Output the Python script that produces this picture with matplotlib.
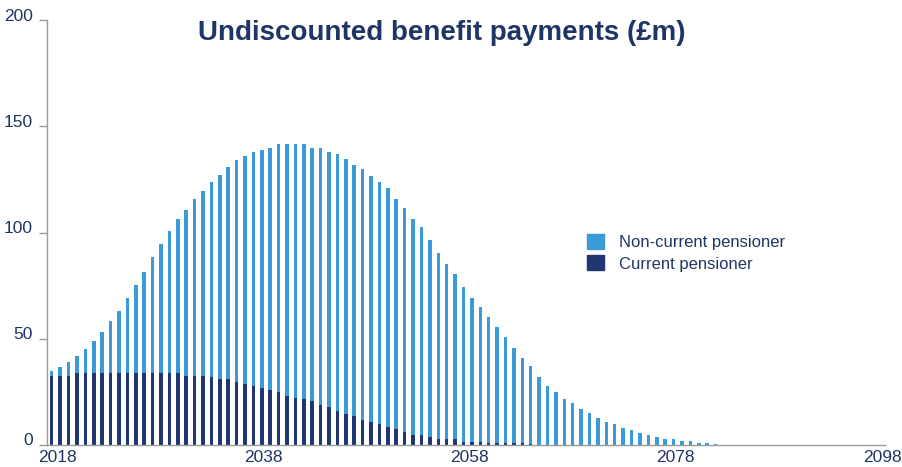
import numpy as np
import matplotlib
matplotlib.use("Agg")
import matplotlib.pyplot as plt
from matplotlib.transforms import ScaledTranslation
from matplotlib.patches import Patch

# benefit payments by year, £m
years = np.arange(2018, 2098)
total = [35.0, 36.9, 39.0, 42.0, 45.1, 49.2, 53.1, 58.3, 63.2, 69.3,
         75.3, 81.4, 88.5, 94.5, 100.8, 106.6, 110.5, 115.7, 119.7, 123.7,
         126.9, 130.8, 134.0, 136.0, 137.9, 138.8, 139.8, 141.8, 141.5, 141.8,
         141.8, 139.6, 139.6, 137.9, 136.8, 134.7, 131.8, 129.7, 126.7, 123.7,
         120.8, 115.7, 111.6, 106.6, 102.5, 96.5, 90.4, 85.4, 80.4, 74.4,
         69.3, 65.2, 60.2, 55.7, 50.8, 45.8, 41.2, 37.1, 31.9, 27.9,
         25.0, 21.8, 19.9, 16.8, 14.9, 12.9, 10.8, 9.8, 7.9, 6.9,
         5.8, 4.7, 3.8, 2.8, 2.8, 1.9, 1.9, 0.9, 0.9, 0.7]
current = [32.7, 32.7, 32.7, 33.8, 33.8, 33.8, 33.8, 33.8, 33.8, 33.8,
           33.8, 33.8, 33.8, 33.8, 33.8, 33.8, 32.7, 32.7, 32.7, 32.1,
           31.0, 31.0, 29.9, 28.8, 27.8, 27.0, 25.9, 25.0, 23.0, 22.0,
           21.7, 20.8, 18.9, 17.9, 15.9, 14.8, 13.8, 11.8, 10.8, 9.9,
           8.6, 7.5, 6.0, 4.9, 4.9, 3.8, 2.8, 2.8, 2.8, 1.6,
           1.5, 1.4, 1.0, 0.9, 0.9, 0.8, 0.8, 0.7, 0, 0,
           0, 0, 0, 0, 0, 0, 0, 0, 0, 0,
           0, 0, 0, 0, 0, 0, 0, 0, 0, 0]
non_current = np.array(total) - np.array(current)
tick_labels = ["2018", "2038", "2058", "2078", "2098"]

light = "#3b9bd8"
dark = "#1f3671"
txt = "#1f3566"
grey = "#9a9a9a"

plt.rcParams["font.family"] = ["Liberation Sans", "DejaVu Sans"]

fig = plt.figure(figsize=(9.02, 4.67), dpi=100)
ax = fig.add_axes([0.0525, 0.047, 0.929, 0.91])

x = np.arange(len(years))
ax.bar(x, current, width=0.42, color=dark, linewidth=0)
ax.bar(x, non_current, bottom=current, width=0.42, color=light, linewidth=0)

ax.set_xlim(-0.52, 99.2)
ax.set_ylim(0, 200)
ax.set_yticks([0, 50, 100, 150, 200])
ax.set_xticks(np.linspace(0.63, 98.8, 5))
ax.set_xticklabels(tick_labels)

for s in ["top", "right"]:
    ax.spines[s].set_visible(False)
for s in ["left", "bottom"]:
    ax.spines[s].set_color(grey)
    ax.spines[s].set_linewidth(1.0)

ax.tick_params(axis="y", length=6, width=1, color=grey, pad=4.5,
               labelsize=12.5, labelcolor=txt)
ax.tick_params(axis="x", length=0, pad=3.5, labelsize=12.5, labelcolor=txt)
for lab in ax.get_yticklabels():
    lab.set_transform(lab.get_transform() + ScaledTranslation(0, 4 / 72, fig.dpi_scale_trans))

fig.text(0.49, 0.929, "Undiscounted benefit payments (£m)", ha="center", va="center",
         fontsize=20, fontweight="bold", color=txt)

handles = [Patch(color=light, label="Non-current pensioner"),
           Patch(color=dark, label="Current pensioner")]
ax.legend(handles=handles, loc="center left", bbox_to_anchor=(0.626, 0.452),
          frameon=False, fontsize=12, labelcolor=txt, handlelength=1.0,
          handleheight=1.0, handletextpad=0.9, labelspacing=0.3)

fig.savefig("out.png", dpi=100)
